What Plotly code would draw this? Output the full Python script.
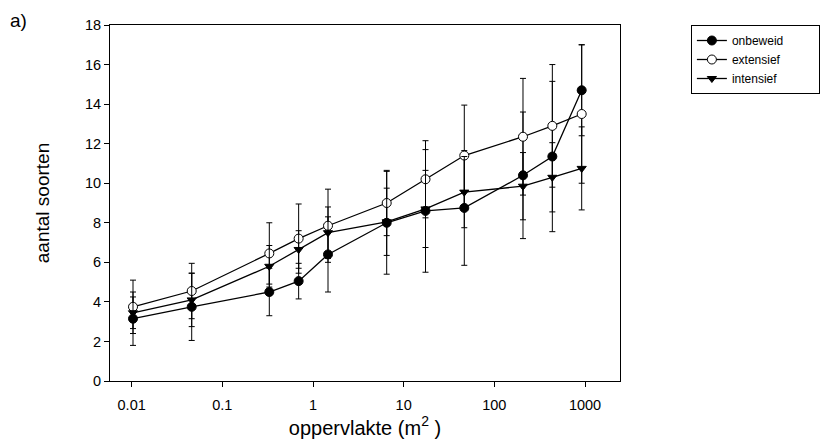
import plotly.graph_objects as go

# Data
oppervlakte = [0.01, 0.04, 0.25, 0.5, 1, 4, 10, 25, 100, 200, 400]
onbeweid = [3.15, 3.75, 4.5, 5.05, 6.4, 8.0, 8.6, 8.75, 10.4, 11.35, 14.7]
onbeweid_sd = [1.35, 1.7, 1.2, 0.9, 1.9, 2.6, 3.1, 2.9, 3.2, 3.8, 2.3]
extensief = [3.75, 4.55, 6.45, 7.2, 7.85, 9.0, 10.2, 11.4, 12.35, 12.9, 13.5]
extensief_sd = [1.35, 1.4, 1.55, 1.75, 1.85, 1.65, 1.95, 2.55, 2.95, 3.1, 3.5]
intensief = [3.45, 4.1, 5.8, 6.65, 7.5, 8.05, 8.7, 9.55, 9.85, 10.3, 10.75]
intensief_sd = [0.8, 1.35, 1.05, 0.95, 1.3, 1.7, 1.95, 1.8, 1.7, 1.75, 2.1]
x_tick_values = [0.01, 0.1, 1, 10, 100, 1000]
x_tick_labels = ["0.01", "0.1", "1", "10", "100", "1000"]
y_tick_values = [0, 2, 4, 6, 8, 10, 12, 14, 16, 18]

FONT = "Liberation Sans, Arial, sans-serif"
PAD = "\u00a0" * 9

fig = go.Figure()

series = [
    ("onbeweid", onbeweid, onbeweid_sd, dict(symbol="circle", color="black", size=9,
                                             line=dict(color="black", width=1))),
    ("extensief", extensief, extensief_sd, dict(symbol="circle", color="white", size=9,
                                                line=dict(color="black", width=1))),
    ("intensief", intensief, intensief_sd, dict(symbol="triangle-down", color="black", size=8,
                                                line=dict(color="black", width=1))),
]

for name, vals, sd, marker in series:
    fig.add_trace(go.Scatter(
        x=oppervlakte, y=vals, name=name + PAD, mode="lines+markers",
        line=dict(color="black", width=1.3),
        marker=marker,
        error_y=dict(type="data", array=sd, visible=True, color="black",
                     thickness=1, width=3),
        xaxis="x", yaxis="y",
    ))

# invisible trace carrying the labelled (tick) axis
fig.add_trace(go.Scatter(x=x_tick_values, y=[None] * len(x_tick_values),
                         xaxis="x2", yaxis="y", showlegend=False,
                         hoverinfo="skip", mode="markers"))

fig.update_layout(
    width=820, height=441,
    margin=dict(l=110, r=200, t=25, b=60, autoexpand=False),
    paper_bgcolor="white", plot_bgcolor="white",
    font=dict(family=FONT, color="black", size=12),
    showlegend=True,
    legend=dict(x=1.139, y=1.0, xanchor="left", yanchor="top",
                bordercolor="black", borderwidth=1, bgcolor="white",
                font=dict(size=12, family=FONT), tracegroupgap=0),
    xaxis=dict(type="log", range=[-2.236, 2.995], showgrid=False, zeroline=False,
               showline=True, linecolor="black", linewidth=1, mirror=True,
               ticks="", showticklabels=False),
    xaxis2=dict(type="log", range=[-2.239, 3.386], overlaying="x", anchor="y",
                side="bottom", showgrid=False, zeroline=False, showline=False,
                ticks="outside", ticklen=5, tickcolor="black", tickwidth=1,
                tickvals=x_tick_values, ticktext=x_tick_labels,
                ticklabelstandoff=6,
                tickfont=dict(size=14.5, family=FONT),
                title=dict(text="oppervlakte (m<sup>2</sup> )",
                           font=dict(size=20, family=FONT), standoff=0)),
    yaxis=dict(range=[0, 18], showgrid=False, zeroline=False,
               showline=True, linecolor="black", linewidth=1, mirror=True,
               ticks="outside", ticklen=5, tickcolor="black",
               tickvals=y_tick_values, tickfont=dict(size=14.5, family=FONT),
               title=dict(text="aantal soorten", font=dict(size=19, family=FONT),
                          standoff=30)),
)

fig.add_annotation(text="a)", x=-0.2, y=1.048, xref="paper", yref="paper",
                   showarrow=False, xanchor="left", yanchor="top",
                   font=dict(size=19, family=FONT))

fig.write_html("out.html")
